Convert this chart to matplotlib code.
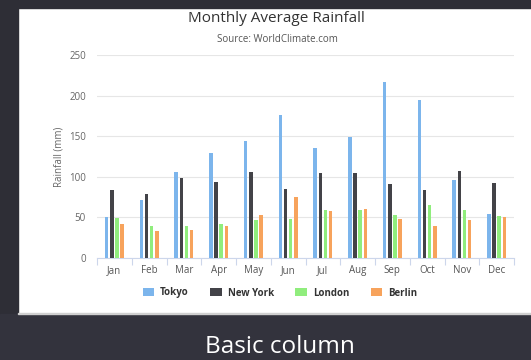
import numpy as np
import matplotlib.pyplot as plt
from matplotlib.patches import Rectangle

months = ['Jan', 'Feb', 'Mar', 'Apr', 'May', 'Jun',
          'Jul', 'Aug', 'Sep', 'Oct', 'Nov', 'Dec']
tokyo = [49.9, 71.5, 106.4, 129.2, 144.0, 176.0, 135.6, 148.5, 216.4, 194.1, 95.6, 54.4]
new_york = [83.6, 78.8, 98.5, 93.4, 106.0, 84.5, 105.0, 104.3, 91.2, 83.5, 106.6, 92.3]
london = [48.9, 38.8, 39.3, 41.4, 47.0, 48.3, 59.0, 59.6, 52.4, 65.2, 59.3, 51.2]
berlin = [42.4, 33.2, 34.5, 39.7, 52.6, 75.5, 57.4, 60.4, 47.6, 39.1, 46.8, 51.1]

series = [('Tokyo', tokyo, '#7cb5ec'),
          ('New York', new_york, '#434348'),
          ('London', london, '#90ed7d'),
          ('Berlin', berlin, '#f7a35c')]

plt.rcParams['font.family'] = ['Open Sans', 'DejaVu Sans']

fig = plt.figure(figsize=(5.31, 3.6), dpi=100)
fig.patch.set_facecolor('white')

# dark frame around the card
fig.patches.append(Rectangle((0, 0), 18/531, 1, transform=fig.transFigure,
                             color='#2e2e36', zorder=0))
fig.patches.append(Rectangle((0, 1-8/360), 1, 8/360, transform=fig.transFigure,
                             color='#2e2e36', zorder=0))
# caption band
fig.patches.append(Rectangle((0, 0), 1, 46/360, transform=fig.transFigure,
                             color='#33333d', zorder=1))
fig.patches.append(Rectangle((18/531, 46/360), 1, 1.5/360, transform=fig.transFigure,
                             color='#d0d0d0', zorder=1))

ax = fig.add_axes([97/531, 1-258/360, 417/531, 203/360])
x = np.arange(len(months))
slot = 0.15
width = 0.1
for i, (name, vals, col) in enumerate(series):
    ax.bar(x + (i - 1.5) * slot, vals, width, color=col, label=name, zorder=3)

ax.set_xlim(-0.5, 11.5)
ax.set_ylim(0, 250)
ax.set_yticks([0, 50, 100, 150, 200, 250])
ax.yaxis.grid(True, color='#e6e6e6', linewidth=0.8)
ax.set_xticks(x)
ax.set_xticklabels(months)
ax.set_xticks(np.arange(-0.5, 12, 1), minor=True)
ax.tick_params(axis='x', which='major', length=0, pad=5, labelsize=7, labelcolor='#555555')
ax.tick_params(axis='x', which='minor', length=5, color='#ccd6eb', width=0.8)
ax.tick_params(axis='y', length=0, pad=8, labelsize=7, labelcolor='#666666')
for s in ['top', 'right', 'left']:
    ax.spines[s].set_visible(False)
ax.spines['bottom'].set_color('#ccd6eb')
ax.set_ylabel('Rainfall (mm)', fontsize=7, color='#666666', labelpad=3)

fig.text(0.52, 1-19/360, 'Monthly Average Rainfall', ha='center', va='center',
         fontsize=11, color='#333333')
fig.text(0.523, 1-40/360, 'Source: WorldClimate.com', ha='center', va='center',
         fontsize=7, color='#555555')

leg = fig.legend(loc='center', bbox_to_anchor=(0.527, 1-293/360), ncol=4,
                 frameon=False, fontsize=7, handlelength=1.2, handleheight=0.9,
                 columnspacing=2.2, handletextpad=0.6)
for t in leg.get_texts():
    t.set_fontweight('bold')
    t.set_color('#333333')

fig.text(0.528, 1-347/360, 'Basic column', ha='center', va='center',
         fontsize=17.5, color='white', fontweight='medium', zorder=5)

fig.savefig('out.png', dpi=100)
